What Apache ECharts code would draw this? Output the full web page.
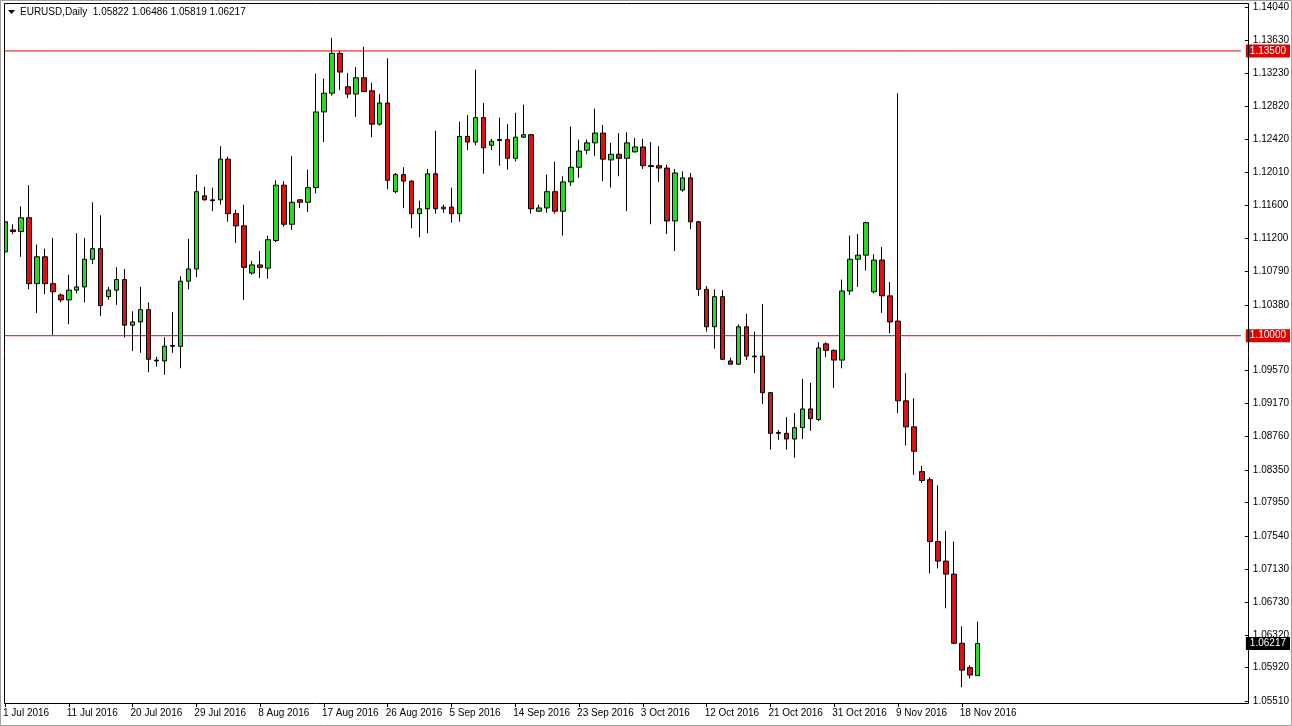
<!DOCTYPE html>
<html lang="en" style="height: 100%">
<head>
  <meta charset="utf-8">
</head>
<body style="height: 100%; margin: 0; background: #fff">
  <div id="container" style="height: 100%"></div>
  <script type="text/javascript" src="https://cdn.jsdelivr.net/npm/echarts@6/dist/echarts.min.js"></script>
  <script type="text/javascript">
    // EURUSD daily bars, [open, close, low, high]
    var opens = [1.1103,1.1130,1.1128,1.1145,1.1064,1.1097,1.1064,1.1050,1.1044,1.1056,1.1060,1.1094,1.1107,1.1048,1.1056,1.1069,
      1.1013,1.1017,1.1032,1.0970,1.0969,1.0987,1.0987,1.1067,1.1082,1.1172,1.1167,1.1167,1.1217,1.1150,1.1135,1.1077,
      1.1087,1.1083,1.1117,1.1185,1.1137,1.1167,1.1164,1.1182,1.1275,1.1298,1.1347,1.1306,1.1297,1.1317,1.1301,1.1260,
      1.1286,1.1177,1.1198,1.1190,1.1150,1.1156,1.1199,1.1156,1.1158,1.1150,1.1245,1.1238,1.1268,1.1234,1.1241,1.1241,
      1.1218,1.1244,1.1247,1.1153,1.1157,1.1177,1.1153,1.1189,1.1207,1.1228,1.1237,1.1249,1.1216,1.1223,1.1218,1.1226,
      1.1232,1.1209,1.1209,1.1206,1.1141,1.1179,1.1194,1.1140,1.1057,1.1011,1.1048,1.0969,1.0965,1.1011,1.0975,1.0975,
      1.0930,1.0881,1.0880,1.0873,1.0887,1.0910,1.0897,1.0990,1.0982,1.0970,1.1055,1.1094,1.1099,1.1054,1.1093,1.1049,
      1.1018,1.0920,1.0888,1.0833,1.0823,1.0747,1.0723,1.0707,1.0622,1.0592,1.05822];
    var closes = [1.1140,1.1128,1.1145,1.1064,1.1097,1.1064,1.1054,1.1044,1.1056,1.1060,1.1094,1.1107,1.1037,1.1056,1.1069,1.1013,
      1.1017,1.1032,1.0971,1.0969,1.0987,1.0988,1.1067,1.1082,1.1177,1.1167,1.1166,1.1217,1.1150,1.1135,1.1084,1.1087,
      1.1084,1.1118,1.1185,1.1137,1.1164,1.1164,1.1182,1.1275,1.1298,1.1347,1.1324,1.1297,1.1317,1.1300,1.1260,1.1286,
      1.1191,1.1198,1.1190,1.1150,1.1156,1.1199,1.1156,1.1158,1.1150,1.1245,1.1238,1.1268,1.1231,1.1239,1.1240,1.1218,
      1.1244,1.1247,1.1156,1.1157,1.1177,1.1153,1.1189,1.1207,1.1227,1.1237,1.1249,1.1217,1.1223,1.1218,1.1237,1.1232,
      1.1209,1.1208,1.1206,1.1141,1.1200,1.1194,1.1140,1.1057,1.1011,1.1048,1.0971,1.0965,1.1011,1.0975,1.0974,1.0930,
      1.0880,1.0880,1.0873,1.0887,1.0910,1.0898,1.0985,1.0982,1.0970,1.1055,1.1094,1.1099,1.1139,1.1093,1.1049,1.1017,
      1.0920,1.0888,1.0858,1.0822,1.0747,1.0723,1.0707,1.0622,1.0589,1.0583,1.06217];
    var lows = [1.1072,1.1125,1.1097,1.1057,1.1028,1.1051,1.1001,1.1041,1.1014,1.1052,1.1041,1.1088,1.1024,1.1044,1.1038,1.0998,
      1.0981,1.0979,1.0955,1.0962,1.0952,1.0979,1.0960,1.1057,1.1072,1.1166,1.1153,1.1161,1.1140,1.1114,1.1044,1.1075,
      1.1071,1.1070,1.1115,1.1134,1.1130,1.1157,1.1152,1.1175,1.1238,1.1295,1.1302,1.1292,1.1269,1.1300,1.1244,1.1258,
      1.1180,1.1175,1.1157,1.1132,1.1121,1.1126,1.1150,1.1151,1.1139,1.1140,1.1228,1.1234,1.1199,1.1228,1.1209,1.1204,
      1.1214,1.1243,1.1150,1.1152,1.1151,1.1150,1.1123,1.1184,1.1194,1.1223,1.1221,1.1190,1.1182,1.1196,1.1153,1.1225,
      1.1205,1.1137,1.1189,1.1125,1.1104,1.1177,1.1131,1.1049,1.1005,1.0984,1.0970,1.0965,1.0964,1.0970,1.0954,1.0916,
      1.0860,1.0872,1.0860,1.0850,1.0873,1.0883,1.0895,1.0974,1.0936,1.0960,1.1050,1.1060,1.1080,1.1052,1.1028,1.1003,
      1.0905,1.0865,1.0829,1.0819,1.0708,1.0714,1.0665,1.0621,1.0568,1.0579,1.05819];
    var highs = [1.1169,1.1137,1.1159,1.1185,1.1112,1.1107,1.1120,1.1052,1.1075,1.1126,1.1120,1.1164,1.1148,1.1060,1.1084,1.1082,
      1.1030,1.1060,1.1041,1.0974,1.0998,1.1029,1.1073,1.1119,1.1198,1.1183,1.1182,1.1233,1.1220,1.1155,1.1161,1.1092,
      1.1104,1.1123,1.1191,1.1190,1.1221,1.1168,1.1204,1.1322,1.1316,1.1366,1.1350,1.1323,1.1330,1.1355,1.1311,1.1297,
      1.1341,1.1200,1.1207,1.1191,1.1166,1.1205,1.1252,1.1161,1.1182,1.1263,1.1271,1.1327,1.1286,1.1242,1.1268,1.1260,
      1.1274,1.1284,1.1248,1.1161,1.1198,1.1214,1.1196,1.1257,1.1241,1.1241,1.1279,1.1259,1.1237,1.1249,1.1250,1.1243,
      1.1242,1.1238,1.1233,1.1210,1.1205,1.1202,1.1200,1.1141,1.1061,1.1057,1.1056,1.0973,1.1014,1.1027,1.1005,1.1039,
      1.0931,1.0884,1.0900,1.0905,1.0947,1.0942,1.0992,1.0992,1.0983,1.1069,1.1123,1.1125,1.1140,1.1100,1.1109,1.1066,
      1.1298,1.0954,1.0923,1.0840,1.0826,1.0816,1.0760,1.0747,1.0643,1.0595,1.06486];

    var priceTicks = [1.14040,1.13630,1.13230,1.12820,1.12420,1.12010,1.11600,1.11200,1.10790,1.10380,
      1.09570,1.09170,1.08760,1.08350,1.07950,1.07540,1.07130,1.06730,1.06320,1.05920,1.05510];
    var levels = [1.13500, 1.10000];
    var lastPrice = 1.06217;

    // one bar per trading day, Sundays included, Saturdays skipped
    var months = ['Jan','Feb','Mar','Apr','May','Jun','Jul','Aug','Sep','Oct','Nov','Dec'];
    var dates = [];
    var d = new Date(2016, 6, 1);
    while (dates.length < 156) {
      if (d.getDay() !== 6) dates.push(d.getDate() + ' ' + months[d.getMonth()] + ' ' + d.getFullYear());
      d.setDate(d.getDate() + 1);
    }

    var bars = opens.map(function (o, i) { return [o, closes[i], lows[i], highs[i]]; });

    var myChart = echarts.init(document.getElementById('container'), null, { renderer: 'canvas' });
    var font = '"Liberation Sans", Arial, sans-serif';

    function levelSeries(value, lineColor, boxColor, showLine) {
      return {
        type: 'line',
        data: dates.map(function () { return value; }),
        symbol: 'none',
        silent: true,
        z: 1,
        lineStyle: { color: lineColor, width: 1, opacity: showLine ? 1 : 0 },
        endLabel: {
          show: true, formatter: value.toFixed(5), color: '#fff', backgroundColor: boxColor,
          padding: [2, 4, 1, 4], fontSize: 10, fontFamily: font, distance: 5
        }
      };
    }

    var option = {
      animation: false,
      backgroundColor: '#fff',
      grid: { left: 1, top: 3, width: 1248, height: 700 },
      xAxis: {
        type: 'category',
        data: dates,
        boundaryGap: true,
        axisLine: { show: false },
        axisTick: {
          show: true, length: 4, lineStyle: { color: '#000' },
          alignWithLabel: true,
          interval: function (i) { return i % 8 === 0 && i <= 120; }
        },
        axisLabel: {
          interval: function (i) { return i % 8 === 0 && i <= 120; },
          align: 'left', margin: 5, color: '#000', fontSize: 10, fontFamily: font,
          padding: [0, 0, 0, -2]
        },
        splitLine: { show: false }
      },
      yAxis: {
        type: 'value',
        position: 'right',
        min: 1.05486, max: 1.14089,
        axisLine: { show: false },
        splitLine: { show: false },
        axisTick: { show: true, length: 3, customValues: priceTicks, lineStyle: { color: '#000' } },
        axisLabel: {
          customValues: priceTicks, margin: 8, color: '#000', fontSize: 10, fontFamily: font,
          formatter: function (v) { return v.toFixed(5); }
        }
      },
      series: [
        levelSeries(levels[0], '#e00000', '#e00000', true),
        levelSeries(levels[1], '#e00000', '#e00000', true),
        levelSeries(lastPrice, '#000', '#000', false),
        {
          type: 'candlestick',
          data: bars,
          barWidth: 5,
          z: 3,
          itemStyle: {
            color: '#22dd22', color0: '#dd1111',
            borderColor: '#000', borderColor0: '#000', borderWidth: 1
          }
        }
      ],
      graphic: [
        { type: 'rect', z: 100, shape: { x: 0, y: 0, width: 4, height: 703 }, style: { fill: '#fff' } },
        { type: 'rect', z: 101, shape: { x: 4.5, y: 3.5, width: 1244, height: 700 },
          style: { fill: 'none', stroke: '#000', lineWidth: 1 } },
        { type: 'rect', z: 101, shape: { x: 0.5, y: 0.5, width: 1291, height: 725 },
          style: { fill: 'none', stroke: '#a0a0a0', lineWidth: 1 } },
        { type: 'polygon', z: 102, shape: { points: [[8, 10], [15, 10], [11.5, 14]] }, style: { fill: '#000' } },
        { type: 'text', z: 102, left: 20, top: 7,
          style: { text: 'EURUSD,Daily  1.05822 1.06486 1.05819 1.06217', fill: '#000', fontSize: 10, fontFamily: font } }
      ]
    };
    myChart.setOption(option);
    window.addEventListener('resize', myChart.resize);
  </script>
</body>
</html>
